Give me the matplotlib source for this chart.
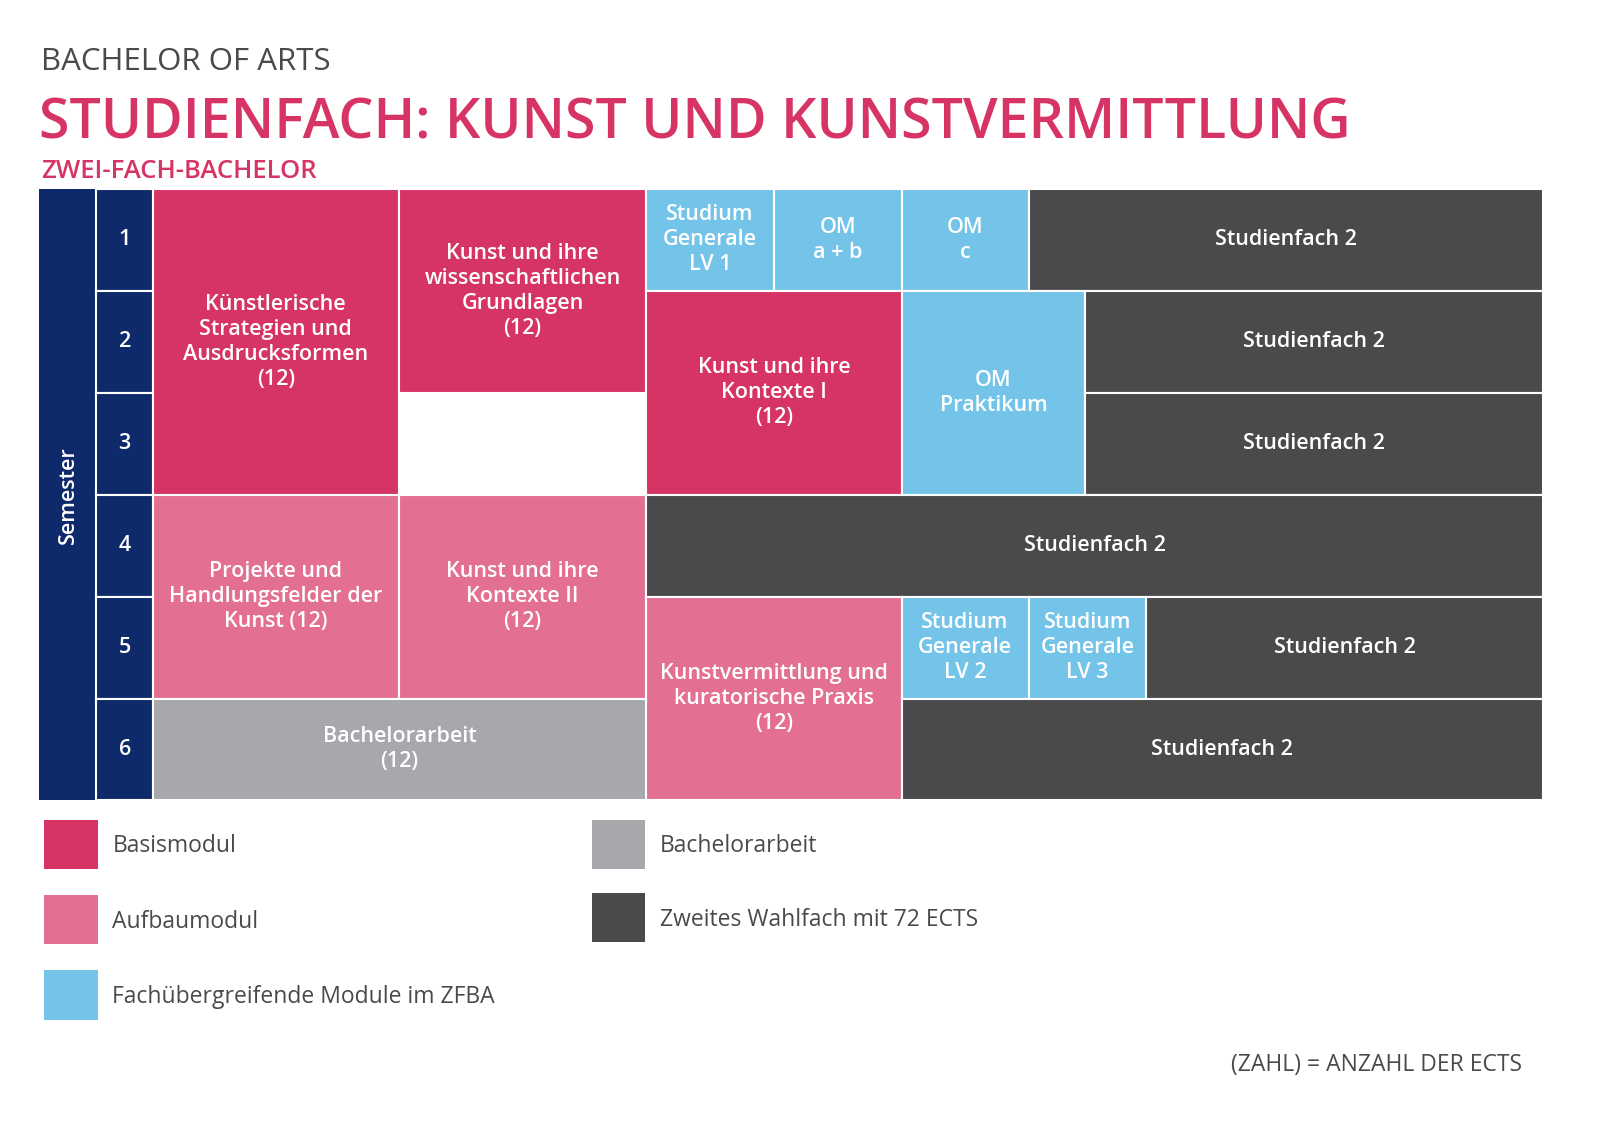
import matplotlib.pyplot as plt
from matplotlib.patches import Rectangle

plt.rcParams["font.family"] = ["Open Sans", "DejaVu Sans"]

BASIS = "#D63465"
AUFBAU = "#E37093"
BLUE = "#74C4EA"
GREY = "#A7A8AC"
DARK = "#4A4A4C"
NAVY = "#0F2A6B"

# column edges (pixel) and semester rows
col_edges = [148, 387, 627, 751, 875, 998, 1053, 1112, 1497]
row_edges = [183, 282, 381, 480, 579, 678, 776]
semesters = ["1", "2", "3", "4", "5", "6"]

# modules: (label, x0, x1, first semester, last semester, colour)
modules = [
    ("Künstlerische\nStrategien und\nAusdrucksformen\n(12)", 148, 387, 1, 3, BASIS),
    ("Kunst und ihre\nwissenschaftlichen\nGrundlagen\n(12)", 387, 627, 1, 2, BASIS),
    ("Studium\nGenerale\nLV 1", 627, 751, 1, 1, BLUE),
    ("OM\na + b", 751, 875, 1, 1, BLUE),
    ("OM\nc", 875, 998, 1, 1, BLUE),
    ("Studienfach 2", 998, 1497, 1, 1, DARK),
    ("Kunst und ihre\nKontexte I\n(12)", 627, 875, 2, 3, BASIS),
    ("OM\nPraktikum", 875, 1053, 2, 3, BLUE),
    ("Studienfach 2", 1053, 1497, 2, 2, DARK),
    ("Studienfach 2", 1053, 1497, 3, 3, DARK),
    ("Projekte und\nHandlungsfelder der\nKunst (12)", 148, 387, 4, 5, AUFBAU),
    ("Kunst und ihre\nKontexte II\n(12)", 387, 627, 4, 5, AUFBAU),
    ("Studienfach 2", 627, 1497, 4, 4, DARK),
    ("Kunstvermittlung und\nkuratorische Praxis\n(12)", 627, 875, 5, 6, AUFBAU),
    ("Studium\nGenerale\nLV 2", 875, 998, 5, 5, BLUE),
    ("Studium\nGenerale\nLV 3", 998, 1112, 5, 5, BLUE),
    ("Studienfach 2", 1112, 1497, 5, 5, DARK),
    ("Bachelorarbeit\n(12)", 148, 627, 6, 6, GREY),
    ("Studienfach 2", 875, 1497, 6, 6, DARK),
]

legend_items = [
    ("Basismodul", BASIS, 43, 795),
    ("Aufbaumodul", AUFBAU, 43, 868),
    ("Fachübergreifende Module im ZFBA", BLUE, 43, 941),
    ("Bachelorarbeit", GREY, 574, 795),
    ("Zweites Wahlfach mit 72 ECTS", DARK, 574, 866),
]

fig = plt.figure(figsize=(16.15, 11.33), dpi=100)
ax = fig.add_axes([0, 0, 1, 1])
ax.set_xlim(0, 1567)
ax.set_ylim(1099, 0)
ax.axis("off")

ax.text(40, 60, "BACHELOR OF ARTS", fontsize=22.5, color="#4A4A4C", va="center")
ax.text(38, 121, "STUDIENFACH: KUNST UND KUNSTVERMITTLUNG", fontsize=40,
        color=BASIS, va="center", fontweight="semibold")
ax.text(40, 166, "ZWEI-FACH-BACHELOR", fontsize=18.5, color=BASIS, va="center",
        fontweight="semibold")

# semester bar
ax.add_patch(Rectangle((38, 183), 55, 593, facecolor=NAVY, edgecolor="none"))
ax.text(66, 480, "Semester", rotation=90, color="white", fontsize=15.5,
        ha="center", va="center", fontweight="semibold")
for i, s in enumerate(semesters):
    y0, y1 = row_edges[i], row_edges[i + 1]
    ax.add_patch(Rectangle((93, y0), 55, y1 - y0, facecolor=NAVY,
                           edgecolor="white", linewidth=1.5))
    ax.text(121, (y0 + y1) / 2, s, color="white", fontsize=15.5,
            ha="center", va="center", fontweight="semibold")

for label, x0, x1, s0, s1, c in modules:
    y0, y1 = row_edges[s0 - 1], row_edges[s1]
    ax.add_patch(Rectangle((x0, y0), x1 - x0, y1 - y0, facecolor=c,
                           edgecolor="white", linewidth=1.5))
    ax.text((x0 + x1) / 2, (y0 + y1) / 2, label, color="white", fontsize=15.5,
            ha="center", va="center", fontweight="semibold", linespacing=1.25)

for label, c, x, y in legend_items:
    ax.add_patch(Rectangle((x, y), 52, 48, facecolor=c, edgecolor="none"))
    ax.text(x + 66, y + 26, label, fontsize=16.5, color="#4A4A4C", va="center")

ax.text(1477, 1033, "(ZAHL) = ANZAHL DER ECTS", fontsize=16.5, color="#4A4A4C",
        ha="right", va="center")

fig.savefig("out.png", dpi=100)
